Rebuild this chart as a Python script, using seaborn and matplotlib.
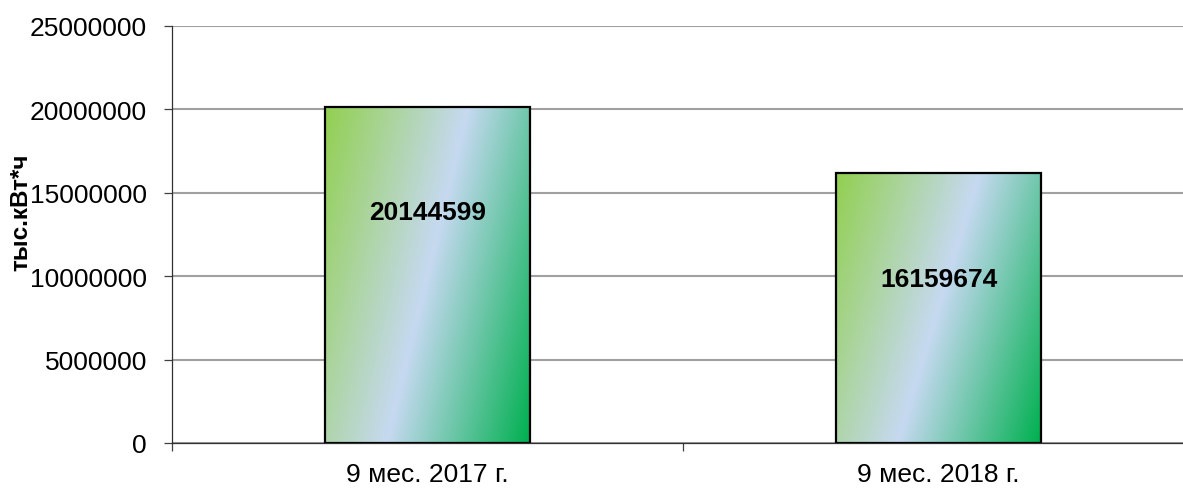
import numpy as np
import pandas as pd
import matplotlib
matplotlib.use('Agg')
import matplotlib.pyplot as plt
import seaborn as sns
from matplotlib.colors import LinearSegmentedColormap

categories = ['9 мес. 2017 г.', '9 мес. 2018 г.']
values = [20144599, 16159674]
y_ticks = [0, 5000000, 10000000, 15000000, 20000000, 25000000]
y_label = 'тыс.кВт*ч'

sns.set_style('white')
plt.rcParams['font.family'] = ['Liberation Sans', 'DejaVu Sans']
plt.rcParams['text.color'] = 'black'
plt.rcParams['axes.labelcolor'] = 'black'

W, H = 1183, 489
fig = plt.figure(figsize=(W / 100, H / 100), dpi=100)
ax = fig.add_axes([172 / W, 1 - 444 / H, (1194 - 172) / W, (444 - 27) / H])

df = pd.DataFrame({'cat': categories, 'val': values})
sns.barplot(data=df, x='cat', y='val', ax=ax, width=0.4, color='white',
            edgecolor='black', linewidth=1.6, zorder=3, errorbar=None)

ax.set_xlim(-0.5, 1.5)
ax.set_ylim(0, 25000000)

cmap = LinearSegmentedColormap.from_list('g', ['#92D050', '#C6D9F1', '#00B050'])
uu, vv = np.meshgrid(np.linspace(0, 1, 200), np.linspace(0, 1, 300))
tt = np.clip(0.5 + (uu - 0.5) * 0.714 + (vv - 0.5) * 0.286, 0, 1)
for p in ax.patches:
    x0 = p.get_x(); w = p.get_width(); h = p.get_height()
    ax.imshow(tt, cmap=cmap, vmin=0, vmax=1, origin='upper', aspect='auto',
              extent=(x0, x0 + w, 0, h), zorder=2, interpolation='bilinear')
    p.set_facecolor('none')

ax.set_xlim(-0.5, 1.5)
ax.set_ylim(0, 25000000)

offset = 6300000
for i, v in enumerate(values):
    ax.text(i, v - offset, str(v), ha='center', va='center', fontsize=19,
            fontweight='bold', color='black', zorder=5)

ax.set_yticks(y_ticks)
ax.set_yticklabels([str(v) for v in y_ticks], fontsize=19)
ax.yaxis.grid(True, color='#a0a0a0', linewidth=1.5)
ax.set_axisbelow(True)

ax.set_xticks([-0.5, 0.5, 1.5])
ax.set_xticklabels(['', '', ''])
ax.set_xticks([0, 1], minor=True)
ax.set_xticklabels(categories, minor=True, fontsize=19)
ax.tick_params(axis='x', which='minor', length=0, pad=14, labelcolor='black')
ax.tick_params(axis='x', which='major', length=6, width=0.9, color='#404040', direction='out', bottom=True)
ax.tick_params(axis='y', length=6, width=0.9, color='#404040', direction='out', pad=12, left=True, labelcolor='black')

ax.set_xlabel('')
ax.set_ylabel(y_label, fontsize=17.5, fontweight='bold', color='black')
ax.yaxis.set_label_coords(-0.137, 0.555)

for s in ['top', 'right']:
    ax.spines[s].set_visible(False)
for s in ['left', 'bottom']:
    ax.spines[s].set_color('#303030')
    ax.spines[s].set_linewidth(0.9)
    ax.spines[s].set_zorder(4)

fig.savefig('out.png', dpi=100)
